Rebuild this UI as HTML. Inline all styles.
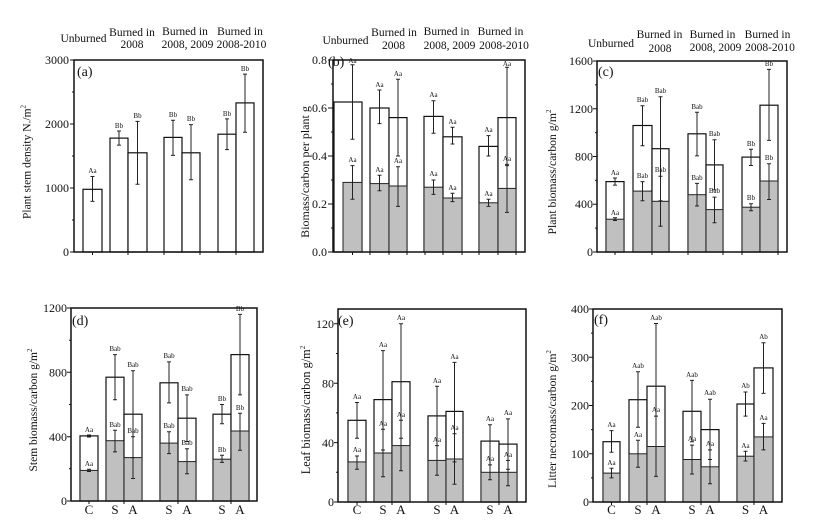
<!DOCTYPE html>
<html><head><meta charset="utf-8"><style>
html,body{margin:0;padding:0;background:#fff;}
svg{display:block;}
text{font-family:"Liberation Serif",serif;fill:#111;}
.w{fill:#fff;stroke:#111;stroke-width:1.2;}
.g{fill:#c0c0c0;stroke:#222;stroke-width:1;}
.e{stroke:#222;stroke-width:1;fill:none;}
.s{font-size:7px;text-anchor:middle;}
.t{font-size:12px;text-anchor:end;}
.h{font-size:11.5px;text-anchor:middle;}
.x{font-size:13px;text-anchor:middle;}
.p{font-size:14px;}
.ax{fill:none;stroke:#111;stroke-width:1.5;}
.tk{stroke:#111;stroke-width:1;}
</style></head><body>
<svg width="823" height="530" viewBox="0 0 823 530" xmlns="http://www.w3.org/2000/svg">
<!-- ================= PANEL A ================= -->
<text class="h" x="83.5" y="42">Unburned</text>
<text class="h" x="132" y="36">Burned in</text><text class="h" x="132" y="48">2008</text>
<text class="h" x="185" y="35">Burned in</text><text class="h" x="187.5" y="48">2008, 2009</text>
<text class="h" x="240" y="35">Burned in</text><text class="h" x="241.5" y="48">2008-2010</text>
<rect class="w" x="83" y="189.3" width="19" height="62.7"/>
<rect class="w" x="110" y="138.1" width="18" height="113.9"/>
<rect class="w" x="128" y="152.8" width="19" height="99.2"/>
<rect class="w" x="164" y="137.4" width="18" height="114.6"/>
<rect class="w" x="182" y="152.8" width="18" height="99.2"/>
<rect class="w" x="218" y="134.2" width="18" height="117.8"/>
<rect class="w" x="236" y="102.9" width="18" height="149.1"/>
<path class="e" d="M92.5,201.4V176.5M90.5,201.4h4M90.5,176.5h4
M119,145.1V131M117,145.1h4M117,131h4
M137.5,184.2V121.4M135.5,184.2h4M135.5,121.4h4
M173,155.4V120.2M171,155.4h4M171,120.2h4
M191,179.7V124.6M189,179.7h4M189,124.6h4
M227,149.6V118.9M225,149.6h4M225,118.9h4
M245,132.3V74.1M243,132.3h4M243,74.1h4"/>
<text class="s" x="92.5" y="173">Aa</text>
<text class="s" x="119" y="128">Bb</text>
<text class="s" x="137.5" y="118">Bb</text>
<text class="s" x="173" y="117">Bb</text>
<text class="s" x="191" y="121">Bb</text>
<text class="s" x="227" y="116">Bb</text>
<text class="s" x="245" y="71">Bb</text>
<rect class="ax" x="74" y="60" width="189" height="192"/>
<path class="tk" d="M70,60h4M70,124h4M70,188h4M70,252h4M72,92h2M72,156h2M72,220h2
M92.5,252v3M128,252v3M164,252v3M200,252v3M236,252v3"/>
<text class="t" x="69" y="64">3000</text>
<text class="t" x="69" y="128">2000</text>
<text class="t" x="69" y="192">1000</text>
<text class="t" x="69" y="256">0</text>
<text class="p" x="77" y="76">(a)</text>
<text font-size="11.5" text-anchor="middle" transform="translate(30.5,162) rotate(-90)">Plant stem density N./m<tspan font-size="7" dy="-5">2</tspan></text>

<!-- ================= PANEL B ================= -->
<text class="h" x="345.5" y="44">Unburned</text>
<text class="h" x="394" y="36">Burned in</text><text class="h" x="393.5" y="49">2008</text>
<text class="h" x="446.5" y="35">Burned in</text><text class="h" x="449.5" y="49">2008, 2009</text>
<text class="h" x="500.5" y="35">Burned in</text><text class="h" x="504" y="49">2008-2010</text>
<rect class="w" x="334" y="102" width="28" height="150"/>
<rect class="g" x="343" y="182.4" width="19" height="69.6"/>
<rect class="w" x="370" y="108" width="19" height="144"/>
<rect class="g" x="370" y="183.6" width="19" height="68.4"/>
<rect class="w" x="389" y="117.6" width="18" height="134.4"/>
<rect class="g" x="389" y="186" width="18" height="66"/>
<rect class="w" x="424" y="116.4" width="19" height="135.6"/>
<rect class="g" x="424" y="187.2" width="19" height="64.8"/>
<rect class="w" x="443" y="136.8" width="19" height="115.2"/>
<rect class="g" x="443" y="198" width="19" height="54"/>
<rect class="w" x="479" y="146.4" width="19" height="105.6"/>
<rect class="g" x="479" y="202.8" width="19" height="49.2"/>
<rect class="w" x="498" y="117.6" width="18" height="134.4"/>
<rect class="g" x="498" y="188.4" width="18" height="63.6"/>
<path class="e" d="M352.5,139.2V64.8M350.5,139.2h4M350.5,64.8h4M352.5,199.2V165.6M350.5,199.2h4M350.5,165.6h4
M379.5,123.6V90M377.5,123.6h4M377.5,90h4M379.5,190.8V175.2M377.5,190.8h4M377.5,175.2h4
M398,156V79.2M396,156h4M396,79.2h4M398,206.4V166.8M396,206.4h4M396,166.8h4
M433.5,133.2V100.8M431.5,133.2h4M431.5,100.8h4M433.5,194.4V180M431.5,194.4h4M431.5,180h4
M452.5,144V127.2M450.5,144h4M450.5,127.2h4M452.5,201.6V193.2M450.5,201.6h4M450.5,193.2h4
M488.5,156V135.6M486.5,156h4M486.5,135.6h4M488.5,206.4V199.2M486.5,206.4h4M486.5,199.2h4
M507,165.6V67.2M505,165.6h4M505,67.2h4M507,212.4V164.4M505,212.4h4M505,164.4h4"/>
<text class="s" x="352.5" y="63">Aa</text><text class="s" x="352.5" y="162">Aa</text>
<text class="s" x="379.5" y="87">Aa</text><text class="s" x="379.5" y="172">Aa</text>
<text class="s" x="398" y="76">Aa</text><text class="s" x="398" y="163">Aa</text>
<text class="s" x="433.5" y="97">Aa</text><text class="s" x="433.5" y="176">Aa</text>
<text class="s" x="452.5" y="124">Aa</text><text class="s" x="452.5" y="190">Aa</text>
<text class="s" x="488.5" y="132">Aa</text><text class="s" x="488.5" y="196">Aa</text>
<text class="s" x="507" y="66">Aa</text><text class="s" x="507" y="161">Aa</text>
<rect class="ax" x="333" y="60" width="192" height="192"/>
<path class="tk" d="M328,60h5M328,108h5M328,156h5M328,204h5M328,252h5M331,84h2M331,132h2M331,180h2M331,228h2
M352.5,252v3M370,252v3M389,252v3M407,252v3M425,252v3M443,252v3M462,252v3M479,252v3M498,252v3M516,252v3"/>
<text class="t" x="327" y="64">0.8</text>
<text class="t" x="327" y="112">0.6</text>
<text class="t" x="327" y="160">0.4</text>
<text class="t" x="327" y="208">0.2</text>
<text class="t" x="327" y="256">0.0</text>
<text class="p" x="328" y="66">(b)</text>
<text font-size="12" text-anchor="middle" transform="translate(309,172) rotate(-90)">Biomass/carbon per plant g</text>

<!-- ================= PANEL C ================= -->
<text class="h" x="611" y="47">Unburned</text>
<text class="h" x="659.5" y="38">Burned in</text><text class="h" x="660" y="52">2008</text>
<text class="h" x="712.5" y="38">Burned in</text><text class="h" x="715.5" y="51">2008, 2009</text>
<text class="h" x="767.5" y="38">Burned in</text><text class="h" x="770" y="51">2008-2010</text>
<rect class="w" x="606" y="181.6" width="18" height="70.4"/>
<rect class="g" x="606" y="219.2" width="18" height="32.8"/>
<rect class="w" x="633" y="125.5" width="19" height="126.5"/>
<rect class="g" x="633" y="191.1" width="19" height="60.9"/>
<rect class="w" x="652" y="148.7" width="17" height="103.3"/>
<rect class="g" x="652" y="201.3" width="17" height="50.7"/>
<rect class="w" x="688" y="133.8" width="18" height="118.2"/>
<rect class="g" x="688" y="194.7" width="18" height="57.3"/>
<rect class="w" x="706" y="164.9" width="17" height="87.1"/>
<rect class="g" x="706" y="209.6" width="17" height="42.4"/>
<rect class="w" x="742" y="157.1" width="18" height="94.9"/>
<rect class="g" x="742" y="207.2" width="18" height="44.8"/>
<rect class="w" x="760" y="105.2" width="18" height="146.8"/>
<rect class="g" x="760" y="181" width="18" height="71"/>
<path class="e" d="M615,185.1V178M613,185.1h4M613,178h4M615,220.5V217.8M613,220.5h4M613,217.8h4
M642.5,145.8V105.8M640.5,145.8h4M640.5,105.8h4M642.5,200.7V181.6M640.5,200.7h4M640.5,181.6h4
M660.5,200.7V96.8M658.5,200.7h4M658.5,96.8h4M660.5,226.3V176.2M658.5,226.3h4M658.5,176.2h4
M697,155.9V112.3M695,155.9h4M695,112.3h4M697,206V183.4M695,206h4M695,183.4h4
M714.5,189.9V139.8M712.5,189.9h4M712.5,139.8h4M714.5,222.8V197.1M712.5,222.8h4M712.5,197.1h4
M751,165.5V149.3M749,165.5h4M749,149.3h4M751,210.8V203.7M749,210.8h4M749,203.7h4
M769,140.4V69.4M767,140.4h4M767,69.4h4M769,199.5V163.7M767,199.5h4M767,163.7h4"/>
<text class="s" x="615" y="175">Aa</text><text class="s" x="615" y="215">Aa</text>
<text class="s" x="642.5" y="102">Bab</text><text class="s" x="642.5" y="178">Bab</text>
<text class="s" x="660.5" y="93">Bab</text><text class="s" x="660.5" y="172">Bab</text>
<text class="s" x="697" y="109">Bab</text><text class="s" x="697" y="180">Bab</text>
<text class="s" x="714.5" y="136">Bab</text><text class="s" x="714.5" y="193">Bab</text>
<text class="s" x="751" y="146">Bb</text><text class="s" x="751" y="200">Bb</text>
<text class="s" x="769" y="66">Bb</text><text class="s" x="769" y="160">Bb</text>
<rect class="ax" x="597" y="61" width="190" height="191"/>
<path class="tk" d="M593,61h4M593,108.75h4M593,156.5h4M593,204.25h4M593,252h4M595,84.9h2M595,132.6h2M595,180.4h2M595,228.1h2
M615,252v3M652,252v3M688,252v3M723,252v3M742,252v3M778,252v3"/>
<text class="t" x="593" y="65">1600</text>
<text class="t" x="593" y="113">1200</text>
<text class="t" x="593" y="160.5">800</text>
<text class="t" x="593" y="208">400</text>
<text class="t" x="593" y="256">0</text>
<text class="p" x="598" y="76">(c)</text>
<text font-size="11.7" text-anchor="middle" transform="translate(556,172) rotate(-90)">Plant biomass/carbon g/m<tspan font-size="7" dy="-5">2</tspan></text>

<!-- ================= PANEL D ================= -->
<rect class="w" x="80" y="435.9" width="18" height="65.1"/>
<rect class="g" x="80" y="470.4" width="18" height="30.6"/>
<rect class="w" x="106" y="377.2" width="18" height="123.8"/>
<rect class="g" x="106" y="440.7" width="18" height="60.3"/>
<rect class="w" x="124" y="414.2" width="18" height="86.8"/>
<rect class="g" x="124" y="457.6" width="18" height="43.4"/>
<rect class="w" x="160" y="382.8" width="18" height="118.2"/>
<rect class="g" x="160" y="443.1" width="18" height="57.9"/>
<rect class="w" x="178" y="418.2" width="18" height="82.8"/>
<rect class="g" x="178" y="461.6" width="18" height="39.4"/>
<rect class="w" x="213" y="414.2" width="18" height="86.8"/>
<rect class="g" x="213" y="459.2" width="18" height="41.8"/>
<rect class="w" x="231" y="354.6" width="18" height="146.4"/>
<rect class="g" x="231" y="431" width="18" height="70"/>
<path class="e" d="M89,437V435M87,437h4M87,435h4M89,471.5V469.3M87,471.5h4M87,469.3h4
M115,399.7V354.6M113,399.7h4M113,354.6h4M115,451.9V430.2M113,451.9h4M113,430.2h4
M133,457.6V370.7M131,457.6h4M131,370.7h4M133,478.5V436.7M131,478.5h4M131,436.7h4
M169,402.9V361.9M167,402.9h4M167,361.9h4M169,453.6V431.8M167,453.6h4M167,431.8h4
M187,441.5V394.9M185,441.5h4M185,394.9h4M187,473.7V448.7M185,473.7h4M185,448.7h4
M222,423.8V404.5M220,423.8h4M220,404.5h4M222,462.4V455.2M220,462.4h4M220,455.2h4
M240,394.9V314.4M238,394.9h4M238,314.4h4M240,450.3V413.3M238,450.3h4M238,413.3h4"/>
<text class="s" x="89" y="432">Aa</text><text class="s" x="89" y="466">Aa</text>
<text class="s" x="115" y="351">Bab</text><text class="s" x="115" y="427">Bab</text>
<text class="s" x="133" y="367">Bab</text><text class="s" x="133" y="433">Bab</text>
<text class="s" x="169" y="358">Bab</text><text class="s" x="169" y="428">Bab</text>
<text class="s" x="187" y="391">Bab</text><text class="s" x="187" y="445">Bab</text>
<text class="s" x="222" y="401">Bb</text><text class="s" x="222" y="452">Bb</text>
<text class="s" x="240" y="311">Bb</text><text class="s" x="240" y="410">Bb</text>
<rect class="ax" x="71" y="308" width="186" height="193"/>
<path class="tk" d="M67,308h4M67,372.3h4M67,436.7h4M67,501h4M69,340.2h2M69,404.5h2M69,468.8h2
M89,501v3M124,501v3M178,501v3M231,501v3"/>
<text class="t" x="67" y="312">1200</text>
<text class="t" x="67" y="376.5">800</text>
<text class="t" x="67" y="441">400</text>
<text class="t" x="67" y="505">0</text>
<text class="x" x="89" y="514">C</text><text class="x" x="115" y="514">S</text><text class="x" x="133" y="514">A</text>
<text class="x" x="169" y="514">S</text><text class="x" x="187" y="514">A</text>
<text class="x" x="222" y="514">S</text><text class="x" x="240" y="514">A</text>
<text class="p" x="72" y="325">(d)</text>
<text font-size="11.5" text-anchor="middle" transform="translate(37,410) rotate(-90)">Stem biomass/carbon g/m<tspan font-size="7" dy="-5">2</tspan></text>

<!-- ================= PANEL E ================= -->
<rect class="w" x="348" y="420.3" width="18" height="81.7"/>
<rect class="g" x="348" y="461.9" width="18" height="40.1"/>
<rect class="w" x="374" y="399.6" width="18" height="102.4"/>
<rect class="g" x="374" y="453" width="18" height="49"/>
<rect class="w" x="392" y="381.7" width="18" height="120.3"/>
<rect class="g" x="392" y="445.6" width="18" height="56.4"/>
<rect class="w" x="428" y="415.9" width="18" height="86.1"/>
<rect class="g" x="428" y="460.4" width="18" height="41.6"/>
<rect class="w" x="446" y="411.4" width="17" height="90.6"/>
<rect class="g" x="446" y="459" width="17" height="43"/>
<rect class="w" x="481" y="441.1" width="18" height="60.9"/>
<rect class="g" x="481" y="472.3" width="18" height="29.7"/>
<rect class="w" x="499" y="444.1" width="18" height="57.9"/>
<rect class="g" x="499" y="472.3" width="18" height="29.7"/>
<path class="e" d="M357,438.2V402.5M355,438.2h4M355,402.5h4M357,469.3V456M355,469.3h4M355,456h4
M383,450V350.6M381,450h4M381,350.6h4M383,476.8V429.3M381,476.8h4M381,429.3h4
M401,438.2V323.8M399,438.2h4M399,323.8h4M401,470.8V420.3M399,470.8h4M399,420.3h4
M437,445.6V386.2M435,445.6h4M435,386.2h4M437,475.3V445.6M435,475.3h4M435,445.6h4
M454.5,461.9V362.4M452.5,461.9h4M452.5,362.4h4M454.5,484.2V433.7M452.5,484.2h4M452.5,433.7h4
M490,464.9V424.8M488,464.9h4M488,424.8h4M490,479.7V464.9M488,479.7h4M488,464.9h4
M508,469.3V418.9M506,469.3h4M506,418.9h4M508,485.7V460.4M506,485.7h4M506,460.4h4"/>
<text class="s" x="357" y="399">Aa</text><text class="s" x="357" y="452">Aa</text>
<text class="s" x="383" y="347">Aa</text><text class="s" x="383" y="426">Aa</text>
<text class="s" x="401" y="320">Aa</text><text class="s" x="401" y="417">Aa</text>
<text class="s" x="437" y="383">Aa</text><text class="s" x="437" y="442">Aa</text>
<text class="s" x="454.5" y="359">Aa</text><text class="s" x="454.5" y="430">Aa</text>
<text class="s" x="490" y="421">Aa</text><text class="s" x="490" y="461">Aa</text>
<text class="s" x="508" y="415">Aa</text><text class="s" x="508" y="457">Aa</text>
<rect class="ax" x="338" y="309" width="188" height="193"/>
<path class="tk" d="M334,323.8h4M334,383.2h4M334,442.6h4M334,502h4M336,353.5h2M336,412.9h2M336,472.3h2
M357,502v3M392,502v3M446,502v3M499,502v3"/>
<text class="t" x="334" y="328">120</text>
<text class="t" x="334" y="387.5">80</text>
<text class="t" x="334" y="447">40</text>
<text class="t" x="334" y="506">0</text>
<text class="x" x="357" y="514">C</text><text class="x" x="383" y="514">S</text><text class="x" x="401" y="514">A</text>
<text class="x" x="437" y="514">S</text><text class="x" x="454.5" y="514">A</text>
<text class="x" x="490" y="514">S</text><text class="x" x="508" y="514">A</text>
<text class="p" x="338" y="325">(e)</text>
<text font-size="12.3" text-anchor="middle" transform="translate(310,410) rotate(-90)">Leaf biomass/carbon g/m<tspan font-size="7" dy="-5">2</tspan></text>

<!-- ================= PANEL F ================= -->
<rect class="w" x="603" y="441.7" width="17" height="60.3"/>
<rect class="g" x="603" y="473.1" width="17" height="28.9"/>
<rect class="w" x="629" y="399.7" width="18" height="102.3"/>
<rect class="g" x="629" y="453.8" width="18" height="48.2"/>
<rect class="w" x="647" y="386.2" width="18" height="115.8"/>
<rect class="g" x="647" y="446.5" width="18" height="55.5"/>
<rect class="w" x="683" y="411.3" width="18" height="90.7"/>
<rect class="g" x="683" y="459.5" width="18" height="42.5"/>
<rect class="w" x="701" y="429.6" width="18" height="72.4"/>
<rect class="g" x="701" y="466.8" width="18" height="35.2"/>
<rect class="w" x="737" y="404" width="17" height="98"/>
<rect class="g" x="737" y="456.2" width="17" height="45.8"/>
<rect class="w" x="754" y="367.9" width="19" height="134.1"/>
<rect class="g" x="754" y="436.9" width="19" height="65.1"/>
<path class="e" d="M611.5,452.3V430.6M609.5,452.3h4M609.5,430.6h4M611.5,477.9V468.2M609.5,477.9h4M609.5,468.2h4
M638,427.2V371.7M636,427.2h4M636,371.7h4M638,467.3V440.2M636,467.3h4M636,440.2h4
M656,446.5V323.5M654,446.5h4M654,323.5h4M656,476.4V416.1M654,476.4h4M654,416.1h4
M692,441.7V380.4M690,441.7h4M690,380.4h4M692,474V445.1M690,474h4M690,445.1h4
M710,459.5V399.2M708,459.5h4M708,399.2h4M710,483.7V449.9M708,483.7h4M708,449.9h4
M745.5,416.1V392M743.5,416.1h4M743.5,392h4M745.5,461V451.3M743.5,461h4M743.5,451.3h4
M763.5,393.4V342.8M761.5,393.4h4M761.5,342.8h4M763.5,449.9V423.4M761.5,449.9h4M761.5,423.4h4"/>
<text class="s" x="611.5" y="427">Aa</text><text class="s" x="611.5" y="465">Aa</text>
<text class="s" x="638" y="368">Aab</text><text class="s" x="638" y="437">Aa</text>
<text class="s" x="656" y="320">Aab</text><text class="s" x="656" y="412">Aa</text>
<text class="s" x="692" y="377">Aab</text><text class="s" x="692" y="441">Aa</text>
<text class="s" x="710" y="395">Aab</text><text class="s" x="710" y="446">Aa</text>
<text class="s" x="745.5" y="388">Ab</text><text class="s" x="745.5" y="448">Aa</text>
<text class="s" x="763.5" y="339">Ab</text><text class="s" x="763.5" y="420">Aa</text>
<rect class="ax" x="593" y="309" width="189" height="193"/>
<path class="tk" d="M589,309h4M589,357.25h4M589,405.5h4M589,453.75h4M589,502h4M591,333.1h2M591,381.4h2M591,429.6h2M591,477.9h2
M611.5,502v3M647,502v3M701,502v3M754,502v3"/>
<text class="t" x="589" y="313">400</text>
<text class="t" x="589" y="361.5">300</text>
<text class="t" x="589" y="409.5">200</text>
<text class="t" x="589" y="458">100</text>
<text class="t" x="589" y="506">0</text>
<text class="x" x="611.5" y="514">C</text><text class="x" x="638" y="514">S</text><text class="x" x="656" y="514">A</text>
<text class="x" x="692" y="514">S</text><text class="x" x="710" y="514">A</text>
<text class="x" x="745.5" y="514">S</text><text class="x" x="763.5" y="514">A</text>
<text class="p" x="594" y="324">(f)</text>
<text font-size="11.7" text-anchor="middle" transform="translate(556,419) rotate(-90)">Litter necromass/carbon g/m<tspan font-size="7" dy="-5">2</tspan></text>
</svg>
</body></html>
